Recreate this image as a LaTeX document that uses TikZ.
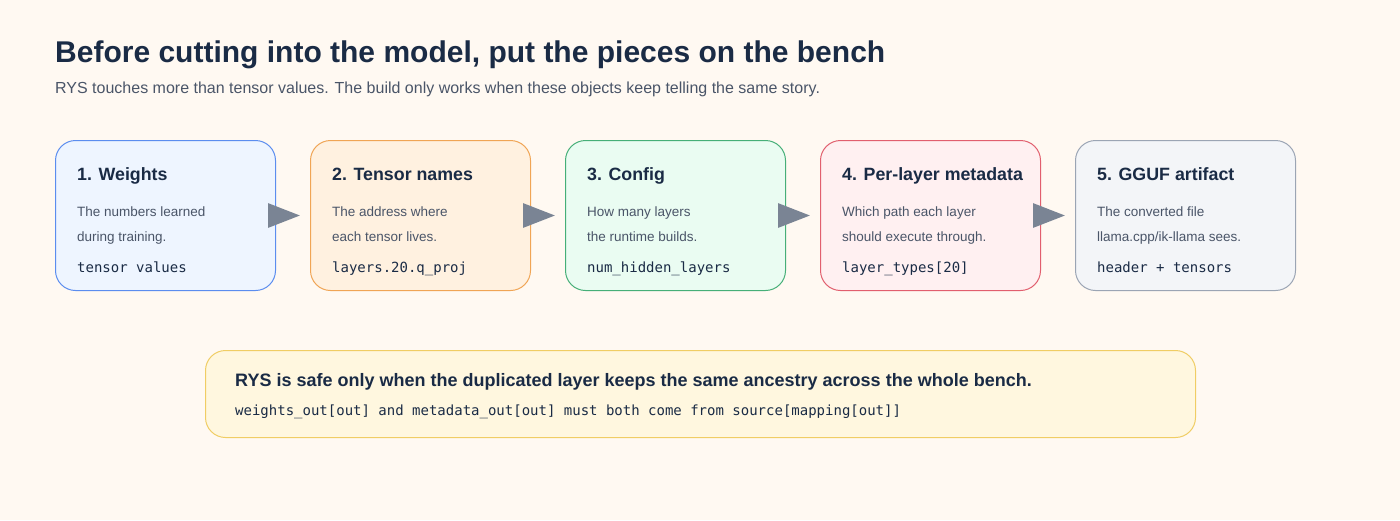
\documentclass[tikz,border=0pt]{standalone}
\usepackage{fontspec}
\setmainfont{Liberation Sans}
\setmonofont{DejaVu Sans Mono}
\usetikzlibrary{arrows.meta, positioning}
\definecolor{bg}{HTML}{FFF9F2}
\definecolor{ink}{HTML}{1A2B45}
\definecolor{sub}{HTML}{4A5568}
\definecolor{arr}{HTML}{7A8494}
\tikzset{
  card/.style={rectangle, draw, line width=1pt, rounded corners=20pt,
    minimum width=220pt, minimum height=150pt, anchor=north west},
  head/.style={anchor=base west, font=\bfseries\fontsize{17.8}{20}\selectfont, text=ink, inner sep=0pt},
  desc/.style={anchor=base west, font=\fontsize{13.5}{25}\selectfont, text=sub, inner sep=0pt,
    align=left},
  code/.style={anchor=base west, font=\ttfamily\fontsize{14}{16}\selectfont, text=ink, inner sep=0pt},
  line/.style={draw=arr, line width=3pt, shorten >=10pt,
    -{Triangle[length=32pt,width=24pt,fill=arr]}}
}
\begin{document}
\begin{tikzpicture}[x=1pt, y=-1pt]
  \fill[bg] (0,0) rectangle (1400,520);
  \useasboundingbox (0,0) rectangle (1400,520);
  % title
  \node (title) [anchor=base west, inner sep=0pt, text=ink, font=\bfseries\fontsize{30}{36}\selectfont]
    at (55,62) {Before cutting into the model, put the pieces on the bench};
  \node (subtitle) [anchor=base west, inner sep=0pt, text=sub, font=\fontsize{16}{20}\selectfont]
    at (55,93) {RYS touches more than tensor values. The build only works when these objects keep telling the same story.};
  % cards
  \node [card, draw={rgb,255:red,91;green,141;blue,239}, fill={rgb,255:red,238;green,245;blue,255}] (weights) at (55,140) {};
  \node [card, draw={rgb,255:red,240;green,165;blue,85}, fill={rgb,255:red,255;green,241;blue,224}] (names) at (310,140) {};
  \node [card, draw={rgb,255:red,70;green,175;blue,120}, fill={rgb,255:red,234;green,252;blue,242}] (config) at (565,140) {};
  \node [card, draw={rgb,255:red,225;green,95;blue,110}, fill={rgb,255:red,255;green,240;blue,241}] (meta) at (820,140) {};
  \node [card, draw={rgb,255:red,155;green,165;blue,180}, fill={rgb,255:red,243;green,245;blue,248}] (gguf) at (1075,140) {};
  % card texts
  \node [head] (weights-h) at (77,180) {1. Weights};
  \node [desc] (weights-d) at (77,241) {The numbers learned\\during training.};
  \node [code] (weights-c) at (77,272) {tensor values};
  \node [head] (names-h) at (332,180) {2. Tensor names};
  \node [desc] (names-d) at (332,241) {The address where\\each tensor lives.};
  \node [code] (names-c) at (332,272) {layers.20.q\_proj};
  \node [head] (config-h) at (587,180) {3. Config};
  \node [desc] (config-d) at (587,241) {How many layers\\the runtime builds.};
  \node [code] (config-c) at (587,272) {num\_hidden\_layers};
  \node [head] (meta-h) at (842,180) {4. Per-layer metadata};
  \node [desc] (meta-d) at (842,241) {Which path each layer\\should execute through.};
  \node [code] (meta-c) at (842,272) {layer\_types[20]};
  \node [head] (gguf-h) at (1097,180) {5. GGUF artifact};
  \node [desc] (gguf-d) at (1097,241) {The converted file\\llama.cpp/ik-llama sees.};
  \node [code] (gguf-c) at (1097,272) {header + tensors};
  % Draw edges
  \path [line] (weights.east) -- (names.west);
  \path [line] (names.east) -- (config.west);
  \path [line] (config.east) -- (meta.west);
  \path [line] (meta.east) -- (gguf.west);
  % note
  \node [card, minimum width=990pt, minimum height=87pt, draw={rgb,255:red,240;green,205;blue,100},
    fill={rgb,255:red,255;green,247;blue,223}] (note) at (205,350) {};
  \node [head, font=\bfseries\fontsize{18}{20}\selectfont] (note-h) at (235,386) {RYS is safe only when the duplicated layer keeps the same ancestry across the whole bench.};
  \node [code] (note-c) at (235,415) {weights\_out[out] and metadata\_out[out] must both come from source[mapping[out]]};
\end{tikzpicture}
\end{document}
